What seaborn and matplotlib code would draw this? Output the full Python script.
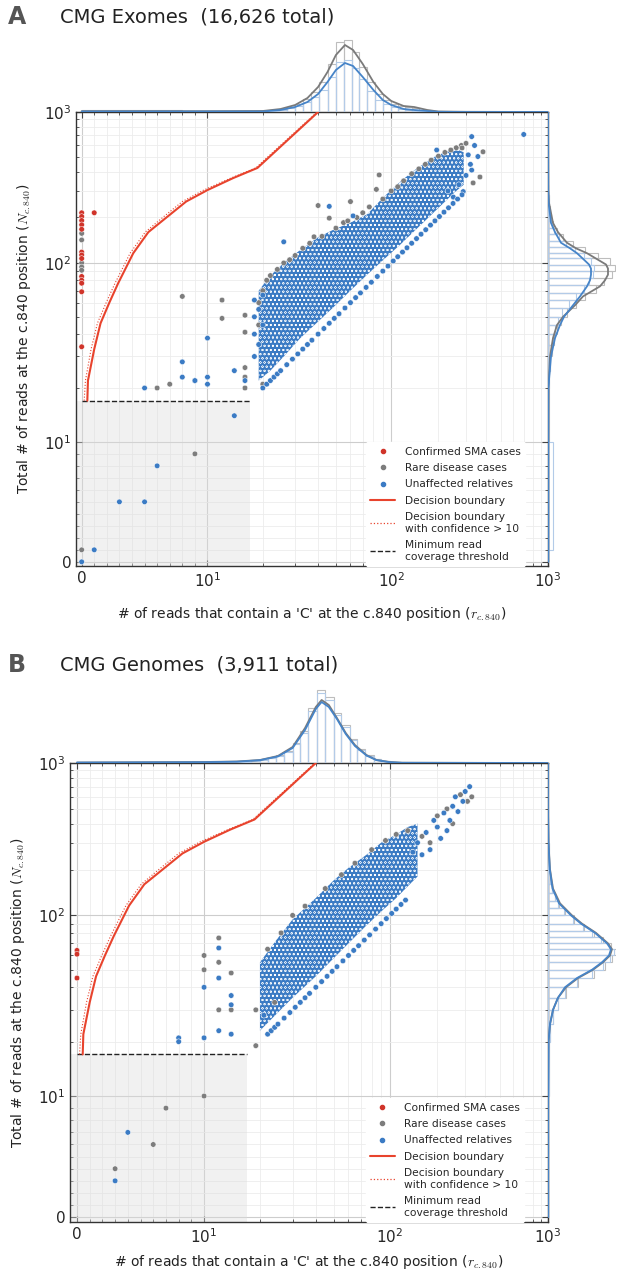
import numpy as np
import pandas as pd
import matplotlib
matplotlib.use("Agg")
import matplotlib.pyplot as plt
import seaborn as sns
from matplotlib.lines import Line2D
from matplotlib.ticker import FixedLocator, FixedFormatter, NullFormatter

sns.set_theme(style="white")
plt.rcParams["font.family"] = ["DejaVu Sans"]
plt.rcParams["hatch.linewidth"] = 0.3

BLUE = "#3b7bc4"
GREY = "#7d7d7d"
RED = "#d0342a"
LINE_RED = "#e8432d"
KDE_BLUE = "#4684c8"

MIN_COVERAGE = 17

# decision boundary (r, N)
boundary_r = [0.45, 0.5, 1.0, 1.5, 2.2, 2.9, 4.1, 5.3, 6.8, 8.3, 10, 13.8, 18.7, 40]
boundary_n = [17, 22, 33, 46, 60, 77, 116, 160, 202, 255, 304, 365, 426, 1000]
conf_r = [0.2, 0.3, 0.75, 1.25, 1.95, 2.65, 3.85, 5.05, 6.5, 8.0, 9.7, 13.4, 18.3, 39.5]
conf_n = [17, 22, 33, 46, 60, 77, 116, 160, 202, 255, 304, 365, 426, 1000]

# ---------------- panel A : exomes ----------------
a_sma_r = [0, 0, 0, 0, 0, 0, 0, 0, 0, 0, 0, 0, 0, 1]
a_sma_n = [215, 203, 191, 179, 167, 118, 113, 107, 84, 80, 77, 69, 34, 215]

a_rare_r = [0, 0, 0, 0, 0, 0, 9, 6, 7, 16,
            20, 8, 12, 12, 16, 16, 16, 16, 19, 19,
            20, 21, 22, 24, 26, 28, 30, 33, 36, 38,
            40, 42, 46, 50, 55, 60, 65, 70, 76, 83,
            86, 90, 100, 110, 120, 135, 150, 165, 180, 200,
            220, 240, 260, 280, 283, 300, 333, 368, 385, 58]
a_rare_n = [157, 142, 100, 95, 91, 1, 9, 20, 21, 20,
            21, 65, 62, 49, 51, 41, 26, 23, 60, 45,
            70, 80, 85, 92, 100, 105, 112, 125, 135, 149,
            240, 150, 198, 170, 185, 255, 200, 215, 235, 307,
            383, 265, 300, 320, 350, 390, 420, 450, 480, 510,
            540, 560, 580, 600, 578, 620, 339, 371, 545, 190]

a_unaff_r = [0, 1, 3, 5, 6, 14, 5, 9, 10, 16,
             10, 8, 10, 8, 9, 14, 46, 62, 700, 195,
             326, 310, 326, 357, 288, 249, 18, 18, 18, 18,
             19, 19, 20, 20, 26, 320, 300, 270, 340, 230]
a_unaff_n = [0, 1, 5, 5, 8, 14, 20, 22, 21, 22,
             38, 28, 23, 23, 22, 25, 237, 205, 710, 560,
             687, 520, 412, 507, 297, 273, 30, 40, 50, 62,
             35, 55, 45, 66, 138, 450, 380, 330, 600, 300]

a_diag_r = [20, 21, 22, 23, 24, 25, 27, 29, 31, 33, 35, 37, 40, 43, 46, 49,
            52, 56, 60, 64, 68, 73, 78, 84, 90, 96, 103, 110, 118, 126, 135,
            145, 155, 166, 178, 190, 203, 217, 232, 248, 265, 283]

a_core_r = [19, 22, 26, 32, 40, 48, 60, 74, 90, 114, 140, 185, 237, 260, 290]
a_core_lo = [22, 25, 30, 38, 47, 56, 70, 86, 104, 132, 162, 214, 274, 300, 330]
a_core_hi = [70, 85, 100, 122, 148, 165, 185, 210, 270, 345, 410, 500, 560, 570, 540]

# marginal histograms (bin edges, heights) and density curves
a_top_edges = [0, 8, 20, 22, 24.5, 27, 30, 33, 36.5, 40.5, 45, 50, 55, 61, 67,
               74, 82, 90, 100, 110, 122, 135, 150, 165, 182, 200]
a_top_grey = [2, 0.5, 1, 2, 3, 5, 8, 13, 20, 30, 48, 70, 72, 60, 45,
              30, 18, 12, 8, 6, 5, 4, 2, 1, 0.5]
a_top_blue = [1.5, 0.4, 0.7, 1.5, 2, 4, 6, 10, 15, 22, 35, 50, 52, 44, 33,
              21, 12, 8, 5, 3, 2, 1.5, 1, 0.5, 0.2]
a_top_kde_r = [0, 10, 20, 25, 30, 35, 40, 45, 50, 56, 62, 70, 80, 90, 100, 120,
               140, 170, 200, 300, 1000]
a_top_kde_grey = [0.8, 0.8, 1, 3, 7, 14, 25, 40, 57, 67, 62, 48, 30, 18, 11, 6,
                  5, 2, 0.5, 0.2, 0]
a_top_kde_blue = [0.5, 0.5, 0.5, 2, 5, 10, 18, 30, 42, 49, 46, 35, 22, 12, 7, 3,
                  2, 1, 0.2, 0, 0]

a_right_edges = [1, 10, 20, 25, 30, 35, 40, 45, 50, 56, 62, 68, 75, 82, 90, 98,
                 107, 117, 128, 140, 155, 170, 190, 210, 240, 280, 330]
a_right_grey = [0.3, 0.5, 1, 2, 4, 6, 9, 13, 19, 28, 37, 48, 56, 64, 67,
                62, 50, 37, 25, 15, 9, 5, 3, 1.5, 0.8, 0.3]
a_right_blue = [5, 0.4, 0.7, 1.5, 3, 4.5, 7, 10, 14, 21, 28, 36, 41, 45, 46,
                43, 36, 27, 18, 11, 6, 3.5, 2, 1, 0.5, 0.2]
a_right_kde_n = [0, 10, 20, 30, 38, 45, 50, 58, 65, 74, 80, 86, 93, 98, 105,
                 116, 125, 136, 160, 184, 250, 304, 1000]
a_right_kde_grey = [0.3, 0.3, 0.5, 2, 5, 9, 15, 27, 35, 52, 57, 60, 60, 58, 50,
                    39, 28, 19, 10, 5, 1, 0.3, 0]
a_right_kde_blue = [0.3, 0.3, 0.3, 3, 7, 12, 16, 25, 32, 39, 42, 43, 43, 41, 36,
                    29, 22, 13, 7, 3, 0.6, 0.2, 0]

# ---------------- panel B : genomes ----------------
b_sma_r = [0, 0, 0]
b_sma_n = [64, 61, 45]

b_rare_r = [3, 6, 7, 10, 12, 14, 19, 19, 24, 23,
            10, 10, 12, 14, 12, 22, 26, 30, 35, 45,
            55, 65, 80, 95, 160, 200, 230, 280, 310, 330,
            250, 180, 110, 130]
b_rare_n = [4, 6, 9, 10, 30, 30, 19, 30, 33, 23,
            50, 60, 55, 48, 75, 65, 80, 100, 115, 150,
            185, 220, 270, 310, 330, 450, 500, 620, 560, 600,
            400, 300, 340, 360]

b_unaff_r = [3, 4, 8, 8, 10, 12, 14, 14, 21, 10,
             12, 14, 12, 150, 170, 190, 200, 220, 240, 250,
             270, 290, 300, 320, 260, 230, 210, 180, 160, 140]
b_unaff_n = [3, 7, 21, 20, 21, 23, 22, 32, 28, 40,
             45, 36, 66, 300, 350, 420, 380, 470, 420, 520,
             480, 560, 650, 700, 600, 360, 320, 270, 250, 260]

b_diag_r = [22, 23, 24, 25, 27, 29, 31, 33, 35, 37, 40, 43, 46, 49, 52, 56,
            60, 64, 68, 73, 78, 84, 90, 96, 103, 110, 118, 126]

b_core_r = [20, 25, 30, 40, 50, 60, 75, 90, 110, 130, 150]
b_core_lo = [23, 29, 35, 46, 58, 70, 88, 106, 130, 155, 180]
b_core_hi = [55, 75, 95, 130, 170, 205, 250, 300, 340, 380, 400]

b_top_edges = [0, 8, 15, 18, 20, 22, 24.5, 27, 30, 33, 36.5, 40.5, 45, 50, 55,
               61, 67, 74, 82, 90, 100, 110]
b_top_grey = [0.5, 1, 1, 2, 3, 5, 8, 12, 20, 32, 55, 73, 66, 50, 38,
              24, 14, 8, 4, 2, 1]
b_top_blue = [0.4, 0.8, 0.8, 1.8, 2.8, 4.6, 7.5, 11, 19, 30, 52, 70, 63, 48, 36,
              23, 13, 7.5, 3.8, 1.8, 0.8]
b_top_kde_r = [0, 10, 15, 20, 25, 30, 35, 40, 43, 47, 52, 58, 65, 75, 85, 100,
               120, 1000]
b_top_kde_grey = [0.5, 1, 1.5, 3, 7, 16, 35, 56, 63, 58, 45, 30, 18, 8, 3, 1, 0.3, 0]
b_top_kde_blue = [0.4, 0.8, 1.3, 2.8, 6.5, 15, 33, 54, 61, 56, 44, 29, 17, 7.5, 2.8,
                  0.8, 0.2, 0]

b_right_edges = [10, 20, 25, 30, 35, 40, 45, 50, 55, 60, 65, 70, 76, 82, 90, 100,
                 112, 125, 140, 160, 200, 300, 500]
b_right_grey = [0.5, 2, 5, 10, 18, 30, 46, 57, 64, 68, 63, 55, 46, 36, 26,
                17, 11, 7, 4, 2, 1, 0.4]
b_right_blue = [0.5, 1.8, 4.6, 9.5, 17, 29, 44, 55, 62, 66, 61, 53, 44, 35, 25,
                16, 10, 6.5, 3.8, 1.8, 0.8, 0.3]
b_right_kde_n = [0, 10, 20, 25, 30, 35, 40, 45, 50, 55, 60, 65, 70, 80, 90, 100,
                 120, 150, 200, 300, 500, 1000]
b_right_kde_grey = [0.2, 0.2, 0.5, 2, 5, 10, 18, 30, 45, 55, 62, 64, 60, 48, 34, 24,
                    12, 5, 2, 0.5, 0, 0]
b_right_kde_blue = [0.2, 0.2, 0.5, 2, 5, 10, 17, 29, 44, 54, 61, 63, 59, 47, 33, 23,
                    11, 4.5, 1.8, 0.4, 0, 0]

MAJOR = [0, 10, 100, 1000]
MAJOR_LABELS = ["0", "$10^1$", "$10^2$", "$10^3$"]
MINOR = list(range(1, 10)) + list(range(20, 100, 10)) + list(range(200, 1000, 100))

W, H = 618, 1279


def px_rect(left, top, right, bottom):
    return [left / W, 1 - bottom / H, (right - left) / W, (bottom - top) / H]


def make_scale(lin, dec1, dec2):
    k1 = 10 * lin
    k2 = k1 + dec1

    def forward(v):
        v = np.asarray(v, dtype=float)
        mid = k1 + dec1 * np.log10(np.clip(v, 10, 100) / 10)
        top = k2 + dec2 * np.log10(np.clip(v, 100, None) / 100)
        return np.where(v <= 10, v * lin, np.where(v <= 100, mid, top))

    def inverse(u):
        u = np.asarray(u, dtype=float)
        mid = 10 * 10 ** ((np.clip(u, k1, k2) - k1) / dec1)
        top = 100 * 10 ** ((np.clip(u, k2, k2 + 5 * dec2) - k2) / dec2)
        return np.where(u <= k1, u / lin, np.where(u <= k2, mid, top))

    return forward, inverse


XSCALE = make_scale(12.6, 184, 157)
YSCALE = make_scale(12.0, 179, 151)


def points_frame(groups):
    frames = []
    for label, rs, ns in groups:
        frames.append(pd.DataFrame({"r": rs, "N": ns, "group": label}))
    return pd.concat(frames, ignore_index=True)


def draw_panel(fig, rects, letter, title, title_y, d, xlow, ylow, xpad):
    main_rect, top_rect, right_rect = rects
    ax = fig.add_axes(main_rect)
    ax_top = fig.add_axes(top_rect)
    ax_right = fig.add_axes(right_rect)

    ax.set_xscale("function", functions=XSCALE)
    ax.set_yscale("function", functions=YSCALE)
    ax.set_xlim(xlow, 1000)
    ax.set_ylim(ylow, 1000)

    for axis in (ax.xaxis, ax.yaxis):
        axis.set_major_locator(FixedLocator(MAJOR))
        axis.set_major_formatter(FixedFormatter(MAJOR_LABELS))
        axis.set_minor_locator(FixedLocator(MINOR))
        axis.set_minor_formatter(NullFormatter())
    ax.grid(True, which="major", color="#cdcdcd", lw=0.8)
    ax.grid(True, which="minor", color="#ececec", lw=0.6)
    ax.set_axisbelow(True)
    ax.tick_params(which="both", bottom=True, left=True, top=True, right=True,
                   labelsize=11, color="#444444")
    ax.tick_params(which="major", length=4, width=0.8)
    ax.tick_params(which="minor", length=2.5, width=0.6)
    ax.tick_params(axis="both", which="both", direction="in")
    for sp in ax.spines.values():
        sp.set_color("#333333")
        sp.set_linewidth(1.0)

    # low-coverage region
    ax.fill_between([xlow, MIN_COVERAGE], ylow, MIN_COVERAGE,
                    color="#dcdcdc", alpha=0.4, lw=0, zorder=0.6)
    ax.plot([0, MIN_COVERAGE], [MIN_COVERAGE, MIN_COVERAGE], color="#222222",
            ls="--", lw=1.0, zorder=4)

    # dense core of the cloud
    ax.fill_between(d["core_r"], d["core_lo"], d["core_hi"], facecolor=BLUE,
                    edgecolor="white", hatch="oooo", linewidth=0, zorder=2)

    pts = points_frame([
        ("Rare disease cases", d["rare_r"], d["rare_n"]),
        ("Unaffected relatives", d["unaff_r"], d["unaff_n"]),
        ("Unaffected relatives", d["diag_r"], d["diag_r"]),
        ("Confirmed SMA cases", d["sma_r"], d["sma_n"]),
    ])
    sns.scatterplot(data=pts, x="r", y="N", hue="group",
                    palette={"Confirmed SMA cases": RED,
                             "Rare disease cases": GREY,
                             "Unaffected relatives": BLUE},
                    s=16, edgecolor="white", linewidth=0.35, legend=False,
                    ax=ax, zorder=3)

    sns.lineplot(x=boundary_r, y=boundary_n, sort=False, estimator=None,
                 color=LINE_RED, lw=1.5, ax=ax, zorder=5)
    sns.lineplot(x=conf_r, y=conf_n, sort=False, estimator=None,
                 color=LINE_RED, lw=0.8, ls=":", ax=ax, zorder=5)

    ax.set_xlabel("# of reads that contain a 'C' at the c.840 position ($r_{c.840}$)",
                  fontsize=10, labelpad=xpad, math_fontfamily="cm", color="#222222")
    ax.set_ylabel("Total # of reads at the c.840 position ($N_{c.840}$)",
                  fontsize=10, labelpad=8, math_fontfamily="cm", color="#222222")

    handles = [
        Line2D([], [], marker="o", ls="", color=RED, markersize=3, label="Confirmed SMA cases"),
        Line2D([], [], marker="o", ls="", color=GREY, markersize=3, label="Rare disease cases"),
        Line2D([], [], marker="o", ls="", color=BLUE, markersize=3, label="Unaffected relatives"),
        Line2D([], [], color=LINE_RED, lw=1.5, label="Decision boundary"),
        Line2D([], [], color=LINE_RED, lw=0.9, ls=":", label="Decision boundary\nwith confidence > 10"),
        Line2D([], [], color="#222222", lw=1.0, ls="--", label="Minimum read\ncoverage threshold"),
    ]
    leg = ax.legend(handles=handles, loc="lower right", bbox_to_anchor=(0.962, -0.012),
                    fontsize=7.7, frameon=True, facecolor="white", edgecolor="white",
                    framealpha=1, handlelength=2.3, labelspacing=0.6, borderpad=0.4,
                    handletextpad=0.9)
    leg.set_zorder(6)

    # top marginal
    top_edges = np.asarray(d["top_edges"], dtype=float)
    ax_top.set_xscale("function", functions=XSCALE)
    ax_top.set_xlim(xlow, 1000)
    ax_top.bar(top_edges[:-1], d["top_grey"], width=np.diff(top_edges), align="edge",
               fill=False, edgecolor="#bdbdbd", lw=0.8)
    ax_top.bar(top_edges[:-1], d["top_blue"], width=np.diff(top_edges), align="edge",
               fill=False, edgecolor="#b3cbe8", lw=0.8)
    sns.lineplot(x=d["top_kde_r"], y=d["top_kde_grey"], sort=False, estimator=None,
                 color="#7a7a7a", lw=1.3, ax=ax_top)
    sns.lineplot(x=d["top_kde_r"], y=d["top_kde_blue"], sort=False, estimator=None,
                 color=KDE_BLUE, lw=1.3, ax=ax_top)
    ax_top.set_ylim(0, d["top_h"])
    ax_top.axis("off")

    # right marginal
    right_edges = np.asarray(d["right_edges"], dtype=float)
    ax_right.set_yscale("function", functions=YSCALE)
    ax_right.set_ylim(ylow, 1000)
    ax_right.barh(right_edges[:-1], d["right_grey"], height=np.diff(right_edges),
                  align="edge", fill=False, edgecolor="#bdbdbd", lw=0.8)
    ax_right.barh(right_edges[:-1], d["right_blue"], height=np.diff(right_edges),
                  align="edge", fill=False, edgecolor="#b3cbe8", lw=0.8)
    sns.lineplot(x=d["right_kde_grey"], y=d["right_kde_n"], sort=False, estimator=None,
                 color="#7a7a7a", lw=1.3, ax=ax_right)
    sns.lineplot(x=d["right_kde_blue"], y=d["right_kde_n"], sort=False, estimator=None,
                 color=KDE_BLUE, lw=1.3, ax=ax_right)
    ax_right.set_xlim(0, 68)
    ax_right.axis("off")

    fig.text(8 / W, 1 - title_y / H, letter, fontsize=17, fontweight="bold",
             color="#555555", va="center")
    fig.text(60 / W, 1 - title_y / H, title, fontsize=14, va="center", color="#222222")


fig = plt.figure(figsize=(W / 100, H / 100), dpi=100)

panel_a = dict(sma_r=a_sma_r, sma_n=a_sma_n, rare_r=a_rare_r, rare_n=a_rare_n,
               unaff_r=a_unaff_r, unaff_n=a_unaff_n, diag_r=a_diag_r,
               core_r=a_core_r, core_lo=a_core_lo, core_hi=a_core_hi,
               top_edges=a_top_edges, top_grey=a_top_grey, top_blue=a_top_blue,
               top_kde_r=a_top_kde_r, top_kde_grey=a_top_kde_grey,
               top_kde_blue=a_top_kde_blue, top_h=74,
               right_edges=a_right_edges, right_grey=a_right_grey,
               right_blue=a_right_blue, right_kde_n=a_right_kde_n,
               right_kde_grey=a_right_kde_grey, right_kde_blue=a_right_kde_blue)
panel_b = dict(sma_r=b_sma_r, sma_n=b_sma_n, rare_r=b_rare_r, rare_n=b_rare_n,
               unaff_r=b_unaff_r, unaff_n=b_unaff_n, diag_r=b_diag_r,
               core_r=b_core_r, core_lo=b_core_lo, core_hi=b_core_hi,
               top_edges=b_top_edges, top_grey=b_top_grey, top_blue=b_top_blue,
               top_kde_r=b_top_kde_r, top_kde_grey=b_top_kde_grey,
               top_kde_blue=b_top_kde_blue, top_h=74,
               right_edges=b_right_edges, right_grey=b_right_grey,
               right_blue=b_right_blue, right_kde_n=b_right_kde_n,
               right_kde_grey=b_right_kde_grey, right_kde_blue=b_right_kde_blue)

draw_panel(fig, (px_rect(76, 112, 548, 566), px_rect(76, 38, 548, 112),
                 px_rect(548, 112, 616, 566)),
           "A", "CMG Exomes  (16,626 total)", 17, panel_a, -0.45, -0.35, 11)
draw_panel(fig, (px_rect(70, 763, 548, 1222), px_rect(70, 689, 548, 763),
                 px_rect(548, 763, 616, 1222)),
           "B", "CMG Genomes  (3,911 total)", 665, panel_b, -0.55, -0.4, 5)

fig.savefig("out.png", dpi=100)
